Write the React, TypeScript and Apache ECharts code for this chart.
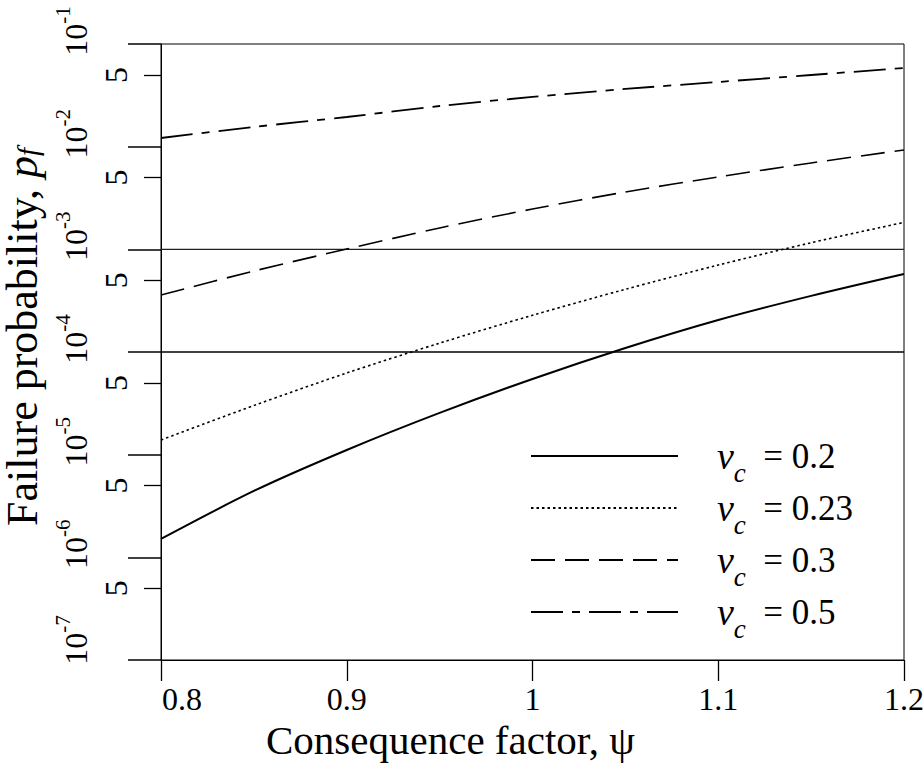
import React, { useEffect, useRef } from "react";
import * as echarts from "echarts";

// ---- data ----
const psi = [0.8, 0.85, 0.9, 0.95, 1.0, 1.05, 1.1, 1.15, 1.2];
const pfVc020 = [1.51e-6, 4.43e-6, 1.11e-5, 2.55e-5, 5.46e-5, 1.094e-4, 2.05e-4, 3.52e-4, 5.75e-4];
const pfVc023 = [1.39e-5, 3.01e-5, 6.25e-5, 1.22e-4, 2.28e-4, 4.08e-4, 7.03e-4, 1.16e-3, 1.83e-3];
const pfVc030 = [3.59e-4, 6.15e-4, 1.007e-3, 1.614e-3, 2.471e-3, 3.62e-3, 5.07e-3, 6.94e-3, 9.28e-3];
const pfVc050 = [0.01215, 0.01556, 0.01946, 0.02489, 0.03048, 0.03648, 0.04266, 0.04991, 0.05834];

const seriesNames = ["vc = 0.2", "vc = 0.23", "vc = 0.3", "vc = 0.5"];
const seriesVc = ["0.2", "0.23", "0.3", "0.5"];

const decadeTicks = [1e-7, 1e-6, 1e-5, 1e-4, 1e-3, 1e-2, 1e-1];
const decadeExponents = ["-7", "-6", "-5", "-4", "-3", "-2", "-1"];
const halfTicks = [5e-7, 5e-6, 5e-5, 5e-4, 5e-3, 5e-2];
const refLevels = [1e-3, 1e-4];
const xRange = [0.8, 1.2];
const xTicks = ["0.8", "0.9", "1", "1.1", "1.2"];

const FONT = "Liberation Serif";

export default function App() {
  const ref = useRef<HTMLDivElement>(null);
  useEffect(() => {
    if (!ref.current) return;
    const chart = echarts.init(ref.current, null, { renderer: "svg" });

    const mk = (y: number[]) => psi.map((x, i) => [x, y[i]]);
    const styles: any[] = [
      { type: "solid", width: 2 },
      { type: [2.5, 3], width: 1.6 },
      { type: [24, 10], width: 1.6 },
      { type: [32, 9, 8, 9], width: 1.8 },
    ];
    const datas = [pfVc020, pfVc023, pfVc030, pfVc050];

    const series: any[] = datas.map((d, i) => ({
      name: seriesNames[i],
      type: "line",
      data: mk(d),
      smooth: 0.3,
      symbol: "none",
      yAxisIndex: 0,
      lineStyle: { color: "#000", ...styles[i] },
      itemStyle: { color: "#000" },
      z: 3,
    }));
    refLevels.forEach((lv, k) => {
      series.push({
        name: "ref" + k,
        type: "line",
        data: xRange.map((x) => [x, lv]),
        symbol: "none",
        silent: true,
        yAxisIndex: 0,
        lineStyle: { color: k === 0 ? "#222" : "#000", type: "solid", width: k === 0 ? 1.1 : 1.4 },
        z: 2,
      });
    });

    const legendRich = {
      g: { width: 34, fontSize: 10 },
      v: { fontFamily: FONT, fontStyle: "italic", fontSize: 38, lineHeight: 60, color: "#000" },
      c: { fontFamily: FONT, fontStyle: "italic", fontSize: 27, lineHeight: 20, verticalAlign: "bottom", color: "#000" },
      t: { fontFamily: FONT, fontSize: 35, lineHeight: 60, color: "#000" },
    };

    const option: any = {
      animation: false,
      backgroundColor: "#fff",
      textStyle: { fontFamily: FONT, color: "#000" },
      grid: {
        left: 161,
        right: 19,
        top: 44,
        bottom: 114,
        show: true,
        borderColor: "#000",
        borderWidth: 1,
        containLabel: false,
        outerBoundsMode: "none",
      },
      legend: {
        orient: "vertical",
        left: 525,
        top: 432,
        itemWidth: 147,
        itemHeight: 14,
        itemGap: 3,
        data: seriesNames,
        itemStyle: { opacity: 0 },
        formatter: (name: string) => {
          const i = seriesNames.indexOf(name);
          return `{g| }{v|v}{c|c}{t|  = ${seriesVc[i]}}`;
        },
        textStyle: { fontFamily: FONT, rich: legendRich },
        selectedMode: false,
      },
      xAxis: {
        type: "value",
        min: xRange[0],
        max: xRange[1],
        interval: 0.1,
        axisLine: { onZero: false, lineStyle: { color: "#000", width: 1 } },
        axisTick: { length: 21, lineStyle: { color: "#000", width: 1.3 } },
        axisLabel: {
          margin: 23,
          fontSize: 32,
          fontFamily: FONT,
          color: "#000",
          formatter: (v: number) => {
            const i = Math.round((v - 0.8) / 0.1);
            const s = xTicks[i] ?? String(v);
            return i === 0 ? `{sp| }{n|${s}}` : `{n|${s}}`;
          },
          rich: {
            sp: { width: 42, fontSize: 10 },
            n: { fontFamily: FONT, fontSize: 32, color: "#000" },
          },
        },
        splitLine: { show: false },
        name: "{n|Consequence factor, ψ}{sp| }",
        nameLocation: "middle",
        nameGap: 58,
        nameTextStyle: {
          verticalAlign: "top",
          rich: {
            n: { fontFamily: FONT, fontSize: 41, color: "#000" },
            sp: { width: 164, fontSize: 10 },
          },
        },
      },
      yAxis: [
        {
          type: "log",
          logBase: 10,
          min: 1e-7,
          max: 1e-1,
          position: "left",
          axisLine: { show: true, lineStyle: { color: "#000", width: 1 } },
          axisTick: { show: true, length: 33, customValues: decadeTicks, lineStyle: { color: "#000", width: 1.5 } },
          axisLabel: {
            customValues: decadeTicks,
            rotate: 90,
            margin: 69,
            formatter: (v: number) => {
              const i = decadeTicks.findIndex((d) => Math.abs(Math.log10(d) - Math.log10(v)) < 1e-6);
              const sp = i === 0 ? "{sp7| }" : "{sp| }";
              return `${sp}{b|10}{s|${decadeExponents[i]}}`;
            },
            rich: {
              sp: { width: 26, fontSize: 10 },
              sp7: { width: 40, fontSize: 10 },
              b: { fontFamily: FONT, fontSize: 32, lineHeight: 30, color: "#000", verticalAlign: "bottom" },
              s: { fontFamily: FONT, fontSize: 21, lineHeight: 40, color: "#000", verticalAlign: "top" },
            },
          },
          splitLine: { show: false },
          name: "{sp| }{a|Failure probability, }{p|p}{f|f}",
          nameLocation: "middle",
          nameGap: 87,
          nameTextStyle: {
            rich: {
              sp: { width: 30, fontSize: 10 },
              a: { fontFamily: FONT, fontSize: 44, lineHeight: 40, color: "#000" },
              p: { fontFamily: FONT, fontStyle: "italic", fontSize: 44, lineHeight: 40, color: "#000" },
              f: { fontFamily: FONT, fontStyle: "italic", fontSize: 29, lineHeight: 16, verticalAlign: "bottom", color: "#000" },
            },
          },
        },
        {
          type: "log",
          logBase: 10,
          min: 1e-7,
          max: 1e-1,
          position: "left",
          axisLine: { show: false },
          axisTick: { show: true, length: 17, customValues: halfTicks, lineStyle: { color: "#000", width: 1.3 } },
          axisLabel: {
            customValues: halfTicks,
            rotate: 90,
            margin: 29,
            fontSize: 32,
            fontFamily: FONT,
            color: "#000",
            formatter: () => "5",
          },
          splitLine: { show: false },
        },
      ],
      series,
    };
    chart.setOption(option);
    return () => chart.dispose();
  }, []);
  return (
    <div
      ref={ref}
      style={{ position: "fixed", left: 0, top: 0, width: 923, height: 774, background: "#fff" }}
    />
  );
}
